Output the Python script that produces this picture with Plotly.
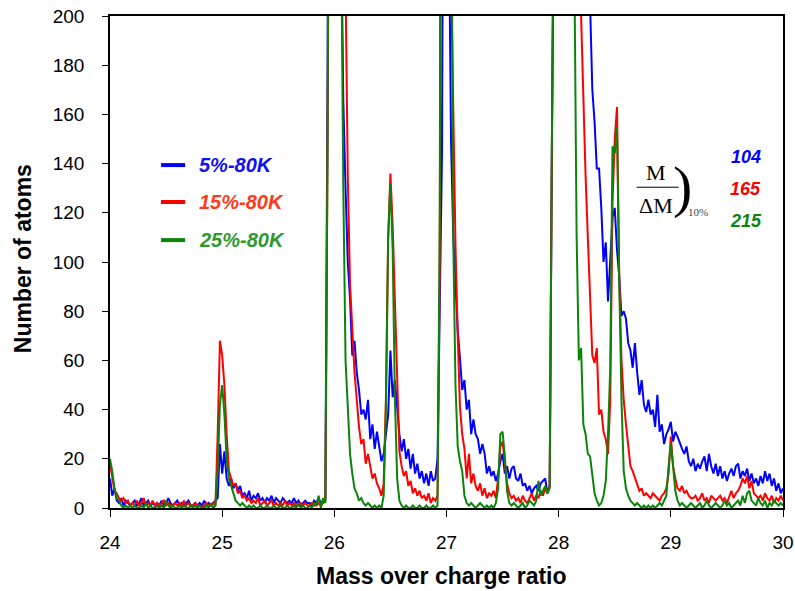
import numpy as np
import plotly.graph_objects as go

# mass-to-charge grid (step 0.02 from 24 to 30)
mz = [round(24 + 0.02 * i, 2) for i in range(301)]

blue_5pct = [
    12, 5, 8, 3, 2, 4, 1, 3, 2, 1,
    2, 3, 1, 2, 4, 1, 2, 3, 1, 2,
    1, 2, 1, 3, 1, 2, 4, 2, 1, 2,
    3, 1, 2, 1, 2, 3, 1, 1, 2, 1,
    2, 1, 3, 1, 2, 1, 2, 3, 4, 26,
    14, 23, 12, 9, 12, 8, 10, 7, 9, 5,
    6, 4, 7, 3, 5, 4, 6, 3, 4, 2,
    4, 3, 5, 2, 4, 3, 2, 4, 3, 2,
    3, 2, 4, 2, 3, 1, 2, 3, 2, 2,
    1, 3, 2, 4, 2, 3, 4, 180, 600, 900,
    900, 700, 450, 240, 165, 130, 100, 85, 62, 68,
    55, 48, 38, 40, 36, 44, 28, 34, 24, 31,
    25, 19, 22, 30, 38, 64, 45, 52, 40, 30,
    23, 28, 20, 24, 16, 22, 14, 18, 12, 15,
    10, 14, 9, 15, 11, 12, 20, 80, 145, 400,
    500, 250, 150, 111, 90, 72, 61, 48, 52, 40,
    44, 30, 36, 30, 28, 22, 26, 22, 14, 17,
    13, 15, 11, 14, 19, 22, 14, 17, 12, 16,
    17, 12, 11, 14, 9, 10, 7, 9, 6, 8,
    9, 7, 10, 11, 12, 6, 9, 150, 600, 900,
    900, 900, 900, 900, 900, 800, 700, 600, 500, 450,
    400, 340, 280, 230, 205, 170, 157, 138, 138, 122,
    100, 108, 84, 100, 118, 122, 105, 94, 78, 80,
    77, 67, 64, 57, 67, 55, 46, 52, 42, 39,
    44, 38, 40, 33, 46, 31, 34, 26, 30, 32,
    35, 27, 31, 29, 26, 24, 22, 25, 19, 17,
    20, 15, 18, 16, 19, 21, 15, 22, 17, 14,
    18, 13, 17, 12, 15, 11, 14, 16, 13, 17,
    18, 12, 15, 13, 16, 11, 14, 10, 12, 9,
    13, 10, 15, 11, 14, 9, 12, 7, 10, 6,
    8,
]

red_15pct = [
    18, 12, 7, 6, 4, 3, 4, 2, 3, 1,
    2, 1, 3, 1, 2, 4, 1, 2, 1, 3,
    1, 2, 1, 2, 3, 1, 2, 1, 1, 2,
    1, 2, 1, 3, 1, 2, 1, 1, 2, 1,
    1, 0, 1, 2, 1, 1, 2, 1, 30, 68,
    62, 50, 30, 15, 12, 9, 10, 6, 7, 4,
    5, 3, 4, 2, 3, 2, 4, 1, 2, 3,
    1, 2, 3, 1, 2, 1, 2, 1, 3, 1,
    2, 1, 2, 1, 1, 2, 1, 2, 1, 1,
    2, 1, 1, 2, 1, 2, 3, 150, 600, 900,
    900, 900, 800, 500, 290, 200, 135, 91, 72, 55,
    44, 33, 26, 28, 18, 22, 17, 12, 14, 10,
    8, 5, 10, 45, 110, 136, 115, 84, 45, 23,
    17, 13, 15, 9, 11, 6, 8, 5, 7, 4,
    5, 3, 6, 2, 4, 3, 5, 100, 500, 900,
    900, 600, 220, 160, 107, 70, 41, 30, 24, 12,
    22, 10, 14, 9, 7, 10, 5, 8, 4, 6,
    5, 7, 4, 12, 25, 27, 18, 10, 6, 4,
    5, 3, 4, 2, 5, 3, 2, 4, 6, 3,
    5, 4, 7, 5, 8, 6, 9, 150, 600, 900,
    900, 900, 900, 900, 900, 800, 700, 500, 350, 260,
    200, 165, 135, 110, 87, 62, 59, 65, 38, 40,
    31, 28, 22, 44, 124, 150, 163, 94, 60, 44,
    34, 26, 17, 15, 12, 9, 7, 8, 5, 6,
    5, 4, 6, 5, 4, 3, 5, 6, 8, 14,
    29, 17, 12, 8, 7, 9, 6, 7, 5, 4,
    4, 5, 3, 4, 6, 3, 4, 2, 5, 4,
    3, 4, 5, 3, 4, 2, 5, 7, 4, 6,
    7, 9, 12, 10, 13, 8, 11, 6, 5, 4,
    5, 3, 6, 4, 3, 5, 2, 4, 3, 5,
    3,
]

green_25pct = [
    20, 15, 8, 4, 3, 1, 0, 1, 0, 1,
    0, 1, 0, 0, 1, 0, 2, 0, 1, 0,
    0, 1, 0, 1, 0, 3, 1, 0, 1, 0,
    0, 1, 0, 1, 0, 0, 1, 0, 1, 0,
    1, 0, 0, 1, 0, 2, 0, 1, 15, 42,
    50, 38, 20, 12, 9, 6, 3, 2, 1, 2,
    1, 0, 1, 0, 1, 0, 0, 1, 0, 0,
    1, 0, 0, 1, 0, 0, 1, 0, 0, 1,
    0, 0, 1, 0, 2, 0, 1, 0, 0, 1,
    0, 2, 1, 5, 0, 4, 2, 150, 600, 900,
    900, 800, 550, 240, 130, 60, 40, 22, 14, 8,
    6, 3, 4, 2, 1, 2, 1, 0, 1, 0,
    1, 0, 5, 40, 110, 132, 105, 45, 12, 3,
    1, 0, 1, 0, 0, 1, 0, 0, 1, 0,
    0, 1, 0, 0, 1, 0, 1, 120, 600, 900,
    900, 700, 300, 111, 50, 25, 19, 15, 5, 2,
    1, 2, 1, 0, 1, 2, 1, 0, 1, 0,
    1, 0, 2, 8, 30, 31, 21, 7, 2, 1,
    2, 1, 0, 1, 2, 0, 1, 3, 2, 1,
    3, 11, 5, 7, 9, 6, 8, 150, 600, 900,
    900, 900, 900, 800, 600, 450, 320, 220, 111, 60,
    65, 34, 30, 22, 21, 12, 6, 3, 1, 2,
    5, 11, 30, 57, 147, 144, 155, 92, 44, 15,
    8, 5, 3, 2, 1, 2, 1, 0, 1, 0,
    1, 0, 1, 0, 1, 2, 1, 3, 5, 17,
    26, 17, 7, 3, 1, 2, 1, 0, 1, 2,
    1, 0, 1, 2, 0, 1, 3, 1, 0, 1,
    2, 1, 0, 1, 3, 1, 2, 0, 1, 2,
    3, 1, 5, 2, 6, 7, 3, 2, 1, 4,
    2, 1, 3, 0, 2, 1, 3, 2, 1, 2,
    1,
]

series_names = ["5%-80K", "15%-80K", "25%-80K"]
line_colors = ["#0000FF", "#FF0000", "#0A850A"]
text_colors = ["#1010F0", "#FF3A1A", "#2E9A2E"]
resolution_values = ["104", "165", "215"]
x_ticks = [24, 25, 26, 27, 28, 29, 30]
y_ticks = list(range(0, 201, 20))

fig = go.Figure()
for name, ys, col in zip(series_names, [blue_5pct, red_15pct, green_25pct], line_colors):
    fig.add_trace(go.Scatter(x=mz, y=ys, mode="lines", name=name,
                             line=dict(color=col, width=2), showlegend=False))

arial = "Arial, Liberation Sans, sans-serif"
serif = "Times New Roman, Liberation Serif, serif"

# in-plot legend (line samples + italic bold labels)
leg_y = [139.4, 124.4, 108.9]
for name, col, tcol, yv in zip(series_names, line_colors, text_colors, leg_y):
    fig.add_shape(type="line", xref="x", yref="y", x0=24.455, x1=24.67, y0=yv, y1=yv,
                  line=dict(color=col, width=4))
    fig.add_annotation(x=24.78, y=yv, xref="x", yref="y", text="<b><i>%s</i></b>" % name,
                       showarrow=False, xanchor="left", yanchor="middle",
                       font=dict(family=arial, size=20, color=tcol))

# resolution numbers
num_y = [142.5, 129.7, 116.5]
for val, col, yv in zip(resolution_values, line_colors, num_y):
    fig.add_annotation(x=29.67, y=yv, xref="x", yref="y", text="<b><i>%s</i></b>" % val,
                       showarrow=False, xanchor="center", yanchor="middle",
                       font=dict(family=arial, size=18, color=col))

# M / ΔM ) 10%
fig.add_annotation(x=28.868, y=136.5, xref="x", yref="y", text="M", showarrow=False,
                   font=dict(family=serif, size=22, color="black"))
fig.add_shape(type="line", xref="x", yref="y", x0=28.695, x1=29.07, y0=130.4, y1=130.4,
              line=dict(color="black", width=1))
fig.add_annotation(x=28.868, y=123.0, xref="x", yref="y", text="ΔM", showarrow=False,
                   font=dict(family=serif, size=22, color="black"))
fig.add_annotation(x=29.105, y=130.5, xref="x", yref="y", text=")", showarrow=False,
                   font=dict(family=serif, size=58, color="black"))
fig.add_annotation(x=29.245, y=120.2, xref="x", yref="y", text="10%", showarrow=False,
                   font=dict(family=serif, size=11, color="#444"))

# axis titles
fig.add_annotation(x=-0.129, y=0.506, xref="paper", yref="paper", text="<b>Number of atoms</b>",
                   textangle=-90, showarrow=False, xanchor="center", yanchor="middle",
                   font=dict(family=arial, size=23, color="black"))
fig.add_annotation(x=0.493, y=-0.139, xref="paper", yref="paper",
                   text="<b>Mass over charge ratio</b>", showarrow=False,
                   xanchor="center", yanchor="middle",
                   font=dict(family=arial, size=23, color="black"))

tick_font = dict(family=arial, size=19, color="black")
fig.update_layout(
    width=795, height=591,
    margin=dict(l=110, r=12, t=16, b=83),
    paper_bgcolor="white", plot_bgcolor="white",
    xaxis=dict(range=[24, 30], tickvals=x_ticks, ticks="outside", ticklen=7, tickcolor="black",
               showline=True, linecolor="black", linewidth=1.5, mirror=True, showgrid=False,
               zeroline=False, tickfont=tick_font, automargin=False, ticklabelstandoff=9),
    yaxis=dict(range=[0, 200], tickvals=y_ticks, ticks="outside", ticklen=6, tickcolor="black",
               showline=True, linecolor="black", linewidth=1.5, mirror=True, showgrid=False,
               zeroline=False, tickfont=tick_font, automargin=False, ticklabelstandoff=14),
)

fig.write_html("out.html")
